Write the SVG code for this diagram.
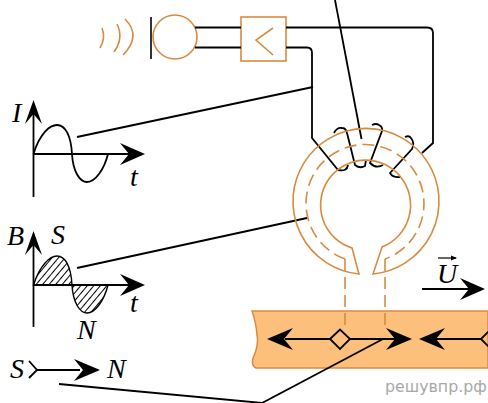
<svg xmlns="http://www.w3.org/2000/svg" width="488" height="403" viewBox="0 0 488 403">
<style>
.w{fill:none;stroke:#000;stroke-width:1.8}
.o{fill:none;stroke:#d98a3f;stroke-width:1.6}
.d{fill:none;stroke:#d98a3f;stroke-width:1.6;stroke-dasharray:12 6}
.h{fill:#000;stroke:none}
.t{font-family:"Liberation Serif",serif;font-style:italic;font-size:28px;fill:#000}
.m{font-family:"DejaVu Sans",sans-serif;font-size:15.8px;fill:#a8a8a8}
</style>
<defs>
<pattern id="hatch" width="5" height="5" patternUnits="userSpaceOnUse" patternTransform="rotate(40)">
<rect width="5" height="5" fill="#fff"/>
<line x1="0" y1="0" x2="0" y2="5" stroke="#000" stroke-width="2"/>
</pattern>
</defs>
<g id="sound">
<path class="o" d="M102 28Q106 38 100 48M117 24Q124 38 114 52M125 19Q142 36 123 55"/>
</g>
<g id="microphone">
<line x1="151" y1="17" x2="151" y2="59" stroke="#000" stroke-width="1.6"/>
<circle class="o" cx="175" cy="37" r="22" fill="#fff"/>
</g>
<g id="amplifier">
<rect class="o" x="241" y="17" width="45" height="44" stroke-width="1.8"/>
<path class="o" d="M273 28L256 40L273 55"/>
</g>
<g id="connectors">
<path class="w" d="M195 27.500H241M195 47.500H241"/>
<path class="w" d="M286 27.500H427Q433 27.500 433 33V143L422 153"/>
<path class="w" d="M286 47.500H307Q312 47.500 312 53V138L338 170Q347 172 348 165"/>
<path class="w" d="M334 133Q337 127 342 128Q346 128 347 133L355 165Q360 169 365 166L366 160"/>
<path class="w" d="M372 125Q376 123 379 125Q383 127 382 131L370 163Q376 169 383 165"/>
<path class="w" d="M405 137Q409 135 411 138Q415 143 412 149L390 173Q393 178 400 177"/>
<path class="w" d="M335 0L361.500 139"/>
<path class="w" d="M77 137L313 87"/>
<path class="w" d="M77 268L307 218"/>
<path class="w" d="M59 384L262 403"/>
</g>
<g id="ring">
<path class="o" d="M359 274A73 73 0 1 1 373 274L382 247A45 45 0 1 0 352 248Z"/>
<path class="d" d="M345 259A59 59 0 1 1 385 259"/>
</g>
<g id="band">
<path d="M252 311H488V368H256Q251 366 253 358Q259 345 257 335Q256 322 252 311Z" fill="#fdc07c" stroke="#d98a3f" stroke-width="1.5"/>
</g>
<g id="probes">
<path class="d" d="M345 259V327M385 259V328"/>
</g>
<g id="field">
<path class="w" d="M285 339H330M350 339H396M436 339H481"/>
<path class="w" d="M330 339L340 329.500L350 339L340 349Z"/>
<path class="w" d="M481 339L490 330M481 339L490 348"/>
<path class="h" d="M267 339L293 328L284 339L293 350Z"/>
<path class="h" d="M412 339L386 328L395 339L386 350Z"/>
<path class="h" d="M419 339L445 328L436 339L445 350Z"/>
<path class="w" d="M383 339L262 403"/>
</g>
<g id="velocity">
<path class="w" d="M422 289H470"/>
<path class="h" d="M485 289L460 278L469 289L460 300Z"/>
<text class="t" x="437" y="283">U</text>
<path d="M438 258H456" stroke="#000" stroke-width="1.200"/>
<path class="h" d="M457 258L451 255.500V260.500Z"/>
</g>
<g id="graph-i">
<path class="w" d="M33.500 197V112M33.500 154H130"/>
<path class="h" d="M33.500 100L25 124L33.500 114L42 124Z"/>
<path class="h" d="M145 154L120 143L129 154L120 165Z"/>
<path class="w" d="M33.500 154C40 133 50 125 57 125C65 125 71 135 72 154C73 172 80 182 87 182C95 182 104 170 108 154"/>
<text class="t" x="12" y="122">I</text>
<text class="t" x="130" y="186">t</text>
</g>
<g id="graph-b">
<path d="M33.500 285C40 265 50 256 57 256C65 256 71 266 72 285C73 303 80 313 87 313C95 313 104 301 108 285Z" fill="url(#hatch)" stroke="#000" stroke-width="1.400"/>
<path class="w" d="M33.500 327V243M33.500 285H130"/>
<path class="h" d="M33.500 231L25 255L33.500 245L42 255Z"/>
<path class="h" d="M145 285L120 274L129 285L120 296Z"/>
<text class="t" x="7" y="245">B</text>
<text class="t" x="51" y="244">S</text>
<text class="t" x="77" y="339">N</text>
<text class="t" x="130" y="312">t</text>
</g>
<g id="legend">
<path class="w" d="M29 361L37 370L29 378M37 370H80"/>
<path class="h" d="M100 370L74 359L83 370L74 381Z"/>
<text class="t" x="10" y="378">S</text>
<text class="t" x="107" y="378">N</text>
</g>
<text class="m" x="385" y="392">решувпр.рф</text>
</svg>
